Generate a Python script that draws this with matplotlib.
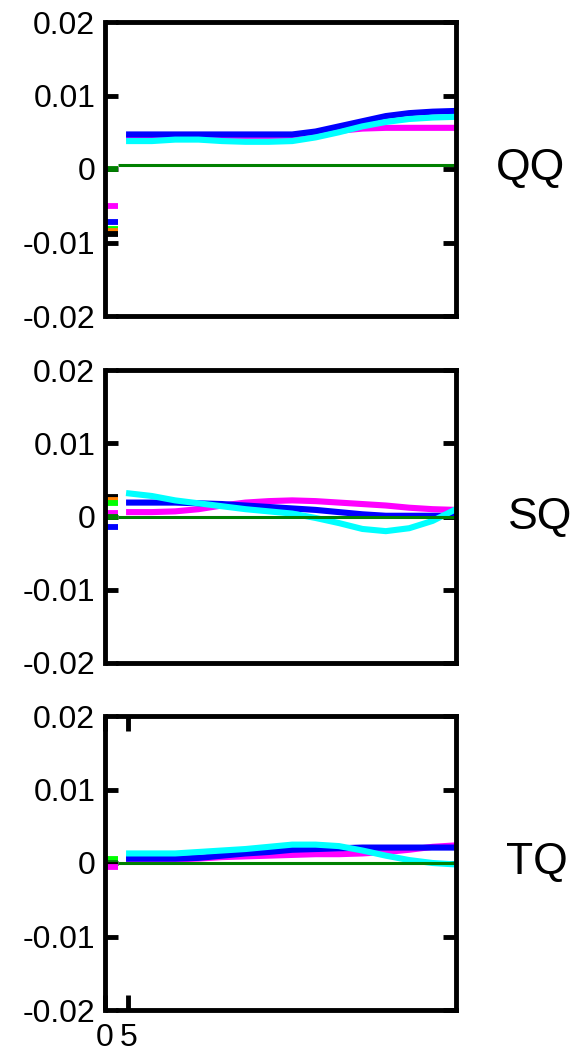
import matplotlib
matplotlib.use("Agg")
import matplotlib.pyplot as plt

plt.rcParams['font.family'] = ['Liberation Sans', 'DejaVu Sans']
plt.rcParams['axes.unicode_minus'] = False

# ---------------- data ----------------
x = [4.5, 10, 15, 20, 25, 30, 35, 40, 45, 50, 55, 60, 65, 70, 75]
x_end = 75
mark_x = [0, 2.7]
zero_start = 2.8

panel_names = ['QQ', 'SQ', 'TQ']

qq_magenta = [0.0043, 0.0043, 0.0043, 0.0043, 0.0043, 0.0043, 0.0043, 0.0044, 0.0048, 0.0052, 0.0055, 0.0056, 0.0056, 0.0056, 0.0056]
qq_blue    = [0.0047, 0.0047, 0.0047, 0.0047, 0.0047, 0.0047, 0.0047, 0.0047, 0.0051, 0.0058, 0.0065, 0.0072, 0.0076, 0.0078, 0.0079]
qq_cyan    = [0.0038, 0.0038, 0.0040, 0.0040, 0.0038, 0.0037, 0.0037, 0.0038, 0.0043, 0.0050, 0.0058, 0.0064, 0.0068, 0.0070, 0.0071]
qq_zero    = 0.0005

sq_magenta = [0.0006, 0.0006, 0.0007, 0.0010, 0.0015, 0.0019, 0.0021, 0.0022, 0.0021, 0.0019, 0.0017, 0.0015, 0.0012, 0.0010, 0.0009]
sq_blue    = [0.0019, 0.0019, 0.0019, 0.0018, 0.0017, 0.0015, 0.0013, 0.0011, 0.0009, 0.0006, 0.0003, 0.0001, 0.0001, 0.0001, 0.0001]
sq_cyan    = [0.0032, 0.0028, 0.0022, 0.0018, 0.0014, 0.0010, 0.0007, 0.0004, -0.0002, -0.0009, -0.0017, -0.0020, -0.0016, -0.0006, 0.0010]
sq_zero    = 0.0

tq_magenta = [0.0005, 0.0005, 0.0005, 0.0006, 0.0008, 0.0009, 0.0010, 0.0011, 0.0012, 0.0012, 0.0013, 0.0015, 0.0018, 0.0022, 0.0024]
tq_blue    = [0.0006, 0.0006, 0.0006, 0.0007, 0.0010, 0.0013, 0.0015, 0.0018, 0.0019, 0.0020, 0.0021, 0.0021, 0.0021, 0.0021, 0.0021]
tq_cyan    = [0.0013, 0.0013, 0.0013, 0.0015, 0.0017, 0.0019, 0.0022, 0.0025, 0.0025, 0.0023, 0.0017, 0.0010, 0.0004, 0.0000, -0.0002]
tq_zero    = 0.0

# short initial marks at the left edge (colour, value)
qq_mark_colors = ['#008000', '#ff00ff', '#0000ff', '#00ff00', '#ff8000', '#000000']
qq_mark_values = [0.0, -0.0051, -0.0072, -0.0082, -0.0084, -0.0089]
sq_mark_colors = ['#000000', '#ff8000', '#00ff00', '#ff00ff', '#008000', '#0000ff']
sq_mark_values = [0.0026, 0.0022, 0.0018, 0.0005, 0.0, -0.0014]
tq_mark_colors = ['#00ff00', '#008000', '#000000', '#ff00ff']
tq_mark_values = [0.0005, 0.0, -0.0003, -0.0006]

yticks = [-0.02, -0.01, 0, 0.01, 0.02]
ytick_labels = ['-0.02', '-0.01', '0', '0.01', '0.02']
xticks = [0, 5]
xtick_labels = ['0', '5']

# ---------------- figure ----------------
fig = plt.figure(figsize=(5.86, 10.53), dpi=100)

W, H = 586, 1053
left_px, right_px = 105, 456
panels_px = [(22, 316), (370, 663), (716, 1010)]
label_pos = [(531, 168), (540, 518), (537, 862)]

series = [
    (qq_magenta, qq_blue, qq_cyan, qq_zero, qq_mark_colors, qq_mark_values),
    (sq_magenta, sq_blue, sq_cyan, sq_zero, sq_mark_colors, sq_mark_values),
    (tq_magenta, tq_blue, tq_cyan, tq_zero, tq_mark_colors, tq_mark_values),
]

for i, ((top, bot), (mag, blu, cya, zer, mcols, mvals)) in enumerate(zip(panels_px, series)):
    ax = fig.add_axes([left_px / W, (H - bot) / H, (right_px - left_px) / W, (bot - top) / H])
    for c, v in zip(mcols, mvals):
        ax.plot(mark_x, [v, v], color=c, lw=4.2, solid_capstyle='butt')
    ax.plot(x, mag, color='#ff00ff', lw=4.4, solid_capstyle='butt')
    ax.plot(x, blu, color='#0000ff', lw=4.4, solid_capstyle='butt')
    ax.plot(x, cya, color='#00ffff', lw=4.4, solid_capstyle='butt')
    ax.plot([zero_start, x_end], [zer, zer], color='#008000', lw=2.2, solid_capstyle='butt')

    ax.set_xlim(0, x_end)
    ax.set_ylim(-0.02, 0.02)
    for s in ax.spines.values():
        s.set_linewidth(3.5)
        s.set_color('black')
    ax.spines['top'].set_bounds(2.7, x_end)
    ax.spines['bottom'].set_bounds(2.7, x_end)

    ax.set_yticks(yticks)
    ax.set_yticklabels(ytick_labels)
    ax.tick_params(axis='y', direction='in', length=9.5, width=3.5, left=True, right=True,
                   labelsize=23, pad=7)
    if i == 2:
        ax.set_xticks(xticks)
        ax.set_xticklabels(xtick_labels)
        ax.tick_params(axis='x', direction='in', length=11, width=3.5, top=True, bottom=True,
                       labelsize=23, pad=9)
    else:
        ax.set_xticks([])

    fig.text(label_pos[i][0] / W, 1 - label_pos[i][1] / H, panel_names[i],
             fontsize=32, ha='center', va='center')

fig.savefig('out.png', dpi=100)
